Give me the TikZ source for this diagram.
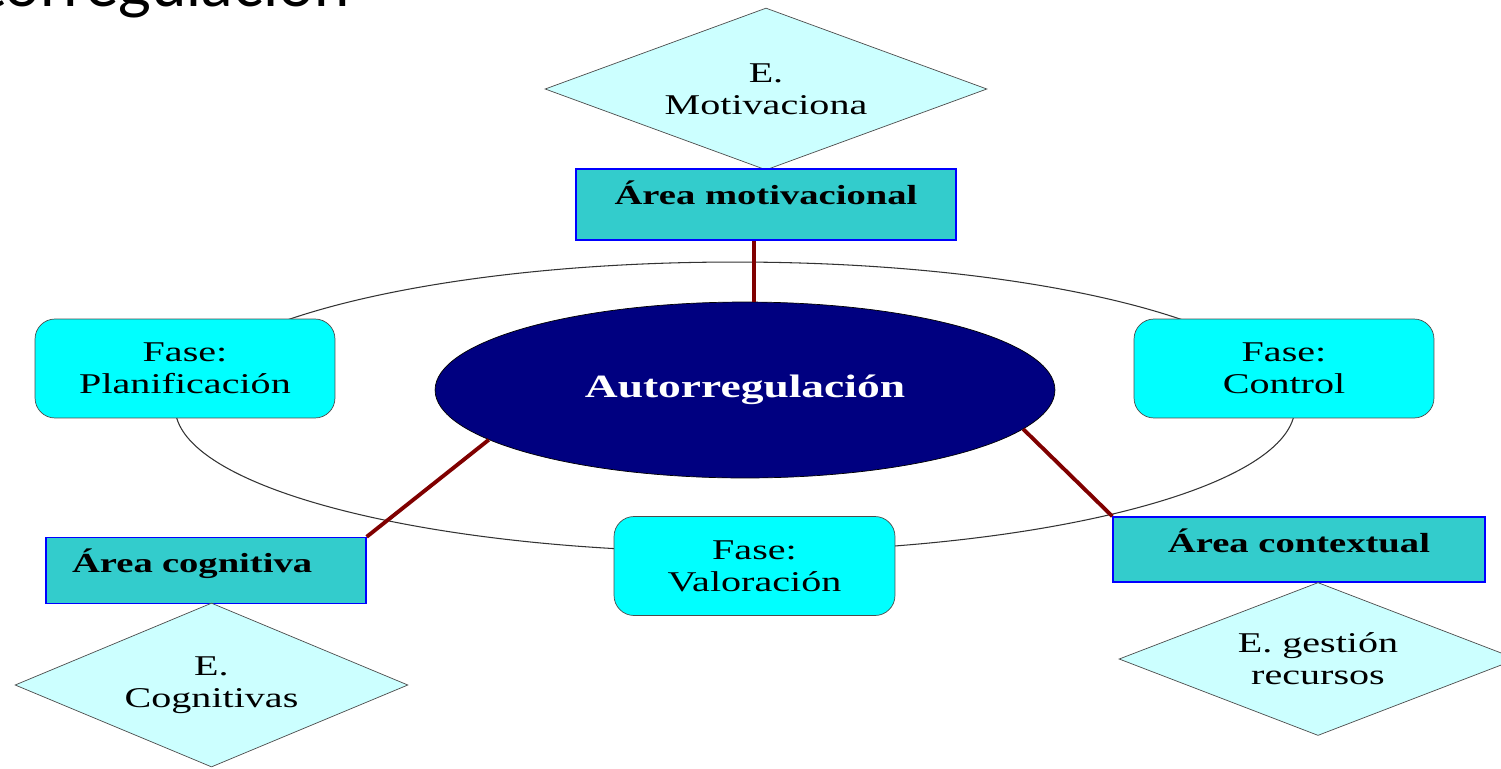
\documentclass[tikz,border=0pt]{standalone}
\usepackage{fontspec}
\setmainfont{Liberation Serif}[FakeStretch=1.4]
\newfontfamily\titlefont{Lato}
\usetikzlibrary{shapes.geometric}
\definecolor{navyfill}{HTML}{000080}
\definecolor{fasefill}{HTML}{00FFFF}
\definecolor{areafill}{HTML}{33CCCC}
\definecolor{estrfill}{HTML}{CCFFFF}
\definecolor{linkred}{HTML}{800000}
\begin{document}
\begin{tikzpicture}[x=0.02cm, y=-0.02cm,
  fase/.style={draw=black!70, fill=fasefill, rounded corners=0.4cm, minimum width=6cm, minimum height=1.98cm, align=center, inner sep=0pt, font=\fontsize{16.3}{18.2}\selectfont},
  area/.style={draw=blue, line width=0.8pt, fill=areafill, inner xsep=0pt, inner ysep=0pt, text height=0.7cm, text depth=0.62cm, font=\bfseries\fontsize{15.7}{18}\selectfont},
  estr/.style={diamond, draw=black!70, fill=estrfill, aspect=2.7, inner sep=0pt, align=center, font=\fontsize{16.3}{18.2}\selectfont},
  link/.style={draw=linkred, line width=2.2pt}]
\useasboundingbox (0,0) rectangle (1501,768);
\begin{scope}
\clip (0,0) rectangle (1501,768);
\node[anchor=base east, inner sep=0pt, font=\titlefont\fontsize{36}{40}\selectfont] (titulo) at (350,6) {Autorregulación};
\end{scope}
\draw[black!80, line width=0.6pt] (735,407) ellipse [x radius=11.2cm, y radius=2.9cm];
\node[estr, minimum width=8.84cm, minimum height=3.24cm] (emot) at (766,89) {E.\\Motivaciona};
\node[area, minimum width=7.6cm, text depth=0.72cm] (amot) at (766,204.5) {Área motivacional};
\node[ellipse, draw=black, fill=navyfill, minimum width=12.4cm, minimum height=3.52cm, text=white, font=\bfseries\fontsize{18.5}{20}\selectfont] (auto) at (745,390) {Autorregulación};
\node[fase] (plan) at (185,368.5) {Fase:\\Planificación};
\node[fase] (ctrl) at (1284,368.5) {Fase:\\Control};
\node[fase, minimum width=5.62cm] (valo) at (754.5,566) {Fase:\\Valoración};
\node[area, minimum width=6.4cm, text width=5.36cm, inner xsep=0.52cm, align=left] (acog) at (206,570.5) {Área cognitiva};
\node[area, minimum width=7.44cm, text depth=0.6cm] (acon) at (1299,549.5) {Área contextual};
\node[estr, minimum width=7.86cm, minimum height=3.28cm] (ecog) at (211.5,685) {E.\\Cognitivas};
\node[estr, minimum width=7.96cm, minimum height=3.06cm] (erec) at (1318,659) {E. gestión\\recursos};
\draw[link] (auto.84) -- (auto.84 |- amot.south);
\draw[link] (auto.191) -- (acog.north east);
\draw[link] (auto.-8) -- (acon.north west);
\end{tikzpicture}
\end{document}
